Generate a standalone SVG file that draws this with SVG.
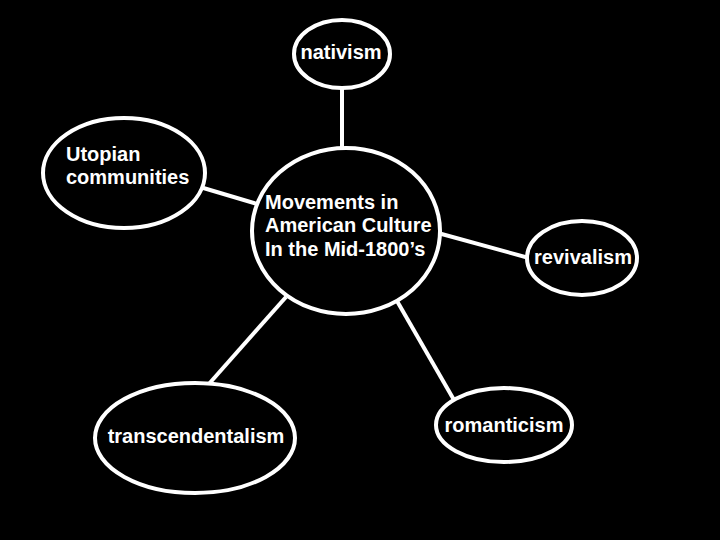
<svg xmlns="http://www.w3.org/2000/svg" width="720" height="540" viewBox="0 0 720 540">
<style>
.n{fill:#000;stroke:#fff;stroke-width:4}
.c line{stroke:#fff;stroke-width:4}
text{font-family:"Liberation Sans",Arial,sans-serif;font-weight:bold;font-size:20px;fill:#fff}
</style>
<rect width="720" height="540" fill="#000"/>
<g class="c" id="connectors">
<line x1="342" y1="88" x2="342" y2="149"/>
<line x1="200" y1="187" x2="257" y2="204"/>
<line x1="438" y1="233" x2="529" y2="258"/>
<line x1="286" y1="297" x2="208" y2="385"/>
<line x1="397" y1="301" x2="454" y2="400"/>
</g>
<g id="nativism"><ellipse class="n" cx="342" cy="54" rx="48" ry="34"/><text x="341" y="59" text-anchor="middle">nativism</text></g>
<g id="utopian"><ellipse class="n" cx="124" cy="173" rx="81" ry="55"/><text x="66" y="161">Utopian</text><text x="66" y="184">communities</text></g>
<g id="center"><ellipse class="n" cx="346" cy="231" rx="94" ry="83"/><text x="265" y="209">Movements in</text><text x="265" y="232">American Culture</text><text x="265" y="256">In the Mid-1800’s</text></g>
<g id="revivalism"><ellipse class="n" cx="582" cy="258" rx="55" ry="37"/><text x="583" y="264" text-anchor="middle">revivalism</text></g>
<g id="transcendentalism"><ellipse class="n" cx="195" cy="438" rx="100" ry="55"/><text x="196" y="443" text-anchor="middle">transcendentalism</text></g>
<g id="romanticism"><ellipse class="n" cx="504" cy="425" rx="68" ry="37"/><text x="504" y="432" text-anchor="middle">romanticism</text></g>
</svg>
